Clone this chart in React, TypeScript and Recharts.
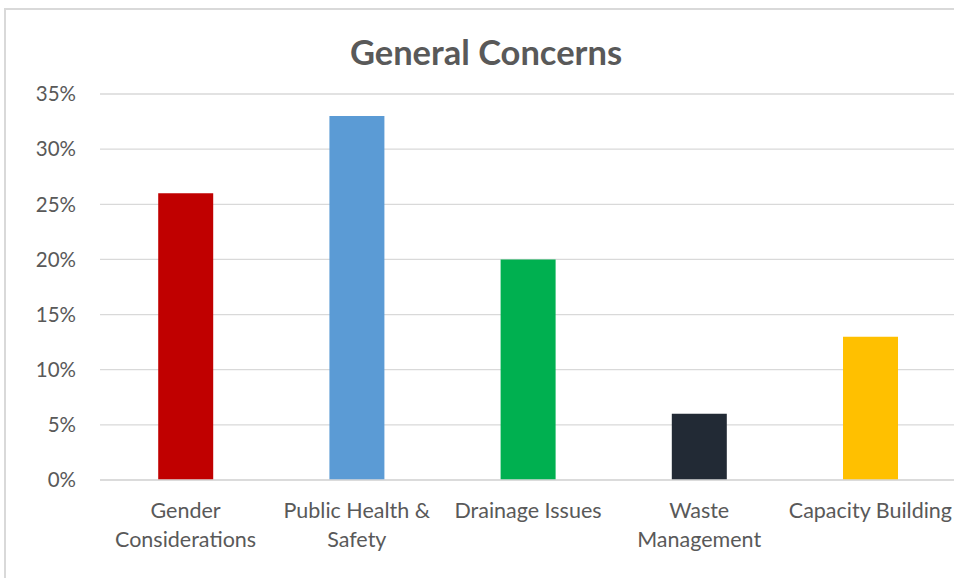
import { Bar, BarChart, CartesianGrid, Cell, XAxis, YAxis } from 'recharts'

const categories = [
  'Gender Considerations',
  'Public Health & Safety',
  'Drainage Issues',
  'Waste Management',
  'Capacity Building',
]
const shares = [26, 33, 20, 6, 13]
const barColors = ['#C00000', '#5B9BD5', '#00B050', '#222A35', '#FFC000']
const yTicks = [0, 5, 10, 15, 20, 25, 30, 35]

// where each category label wraps onto a second line
const labelLines: Record<string, string[]> = {
  'Gender Considerations': ['Gender', 'Considerations'],
  'Public Health & Safety': ['Public Health &', 'Safety'],
  'Drainage Issues': ['Drainage Issues'],
  'Waste Management': ['Waste', 'Management'],
  'Capacity Building': ['Capacity Building'],
}

const data = categories.map((name, i) => ({ name, value: shares[i] }))

const FONT = 'Lato, Carlito, Calibri, sans-serif'
const TEXT = '#595959'

function CategoryTick({ x, y, payload }: any) {
  const lines = labelLines[payload.value] ?? [payload.value]
  return (
    <text x={x} y={y} textAnchor='middle' fill={TEXT} fontFamily={FONT} fontSize={21.5}>
      {lines.map((line, i) => (
        <tspan key={line} x={x} dy={i === 0 ? 30 : 29}>
          {line}
        </tspan>
      ))}
    </text>
  )
}

export default function App() {
  return (
    <div
      style={{
        position: 'absolute',
        left: 0,
        top: 0,
        width: 954,
        height: 578,
        overflow: 'hidden',
        background: '#fff',
      }}
    >
      <div
        style={{
          position: 'absolute',
          left: 4,
          top: 8,
          width: 1000,
          height: 700,
          border: '2px solid #d9d9d9',
        }}
      />
      <div
        style={{
          position: 'absolute',
          left: 0,
          top: 31,
          width: 972,
          textAlign: 'center',
          fontFamily: FONT,
          fontWeight: 700,
          fontSize: 34.5,
          color: TEXT,
        }}
      >
        General Concerns
      </div>
      <div style={{ position: 'absolute', left: 0, top: 0 }}>
        <BarChart
          width={1000}
          height={578}
          data={data}
          margin={{ top: 94, right: 44, bottom: 18, left: 40 }}
          barCategoryGap='34%'
        >
          <CartesianGrid vertical={false} stroke='#d9d9d9' strokeWidth={1.3} />
          <XAxis
            dataKey='name'
            axisLine={{ stroke: '#d9d9d9', strokeWidth: 1.3 }}
            tickLine={false}
            height={80}
            interval={0}
            tick={<CategoryTick />}
          />
          <YAxis
            domain={[0, 35]}
            ticks={yTicks}
            width={60}
            axisLine={false}
            tickLine={false}
            tickSize={0}
            tickMargin={24}
            tickFormatter={(v) => `${v}%`}
            tick={{ fill: TEXT, fontFamily: FONT, fontSize: 20.5 }}
          />
          <Bar dataKey='value' isAnimationActive={false}>
            {data.map((d, i) => (
              <Cell key={d.name} fill={barColors[i]} />
            ))}
          </Bar>
        </BarChart>
      </div>
    </div>
  )
}
